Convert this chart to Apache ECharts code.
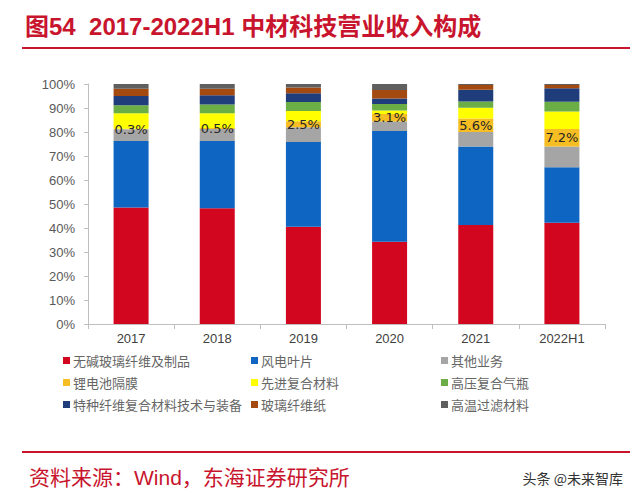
<!DOCTYPE html>
<html>
<head>
<meta charset="utf-8">
<script src="https://cdn.jsdelivr.net/npm/echarts@6/dist/echarts.min.js"></script>
<style>html,body{margin:0;padding:0;background:#fff;}#c{width:640px;height:493px;}</style>
</head>
<body>
<div id="c"></div>
<script>
const categories = ['2017', '2018', '2019', '2020', '2021', '2022H1'];
const seriesNames = ['无碱玻璃纤维及制品', '风电叶片', '其他业务', '锂电池隔膜', '先进复合材料', '高压复合气瓶', '特种纤维复合材料技术与装备', '玻璃纤维纸', '高温过滤材料'];
const glassFiber   = [48.5, 48.2, 40.5, 34.3, 41.2, 42.2];
const windBlade    = [27.75, 28.0, 35.3, 46.1, 32.8, 23.1];
const otherBiz     = [4.85, 5.0, 6.2, 4.0, 6.0, 8.7];
const liSeparator  = [0.3, 0.5, 2.5, 3.1, 5.6, 7.2];
const advComposite = [6.4, 6.1, 4.2, 1.5, 4.5, 7.3];
const hpCylinder   = [3.3, 3.7, 3.8, 2.7, 2.6, 4.1];
const specialFiber = [3.9, 3.8, 3.6, 2.3, 4.9, 5.6];
const fiberPaper   = [3.0, 2.7, 2.4, 3.5, 2.0, 1.4];
const hiTempFilter = [2.0, 2.0, 1.5, 2.5, 0.4, 0.4];
const yTicks = ['0%', '10%', '20%', '30%', '40%', '50%', '60%', '70%', '80%', '90%', '100%'];

const values = [glassFiber, windBlade, otherBiz, liSeparator, advComposite, hpCylinder, specialFiber, fiberPaper, hiTempFilter];
const colors = ['#D2061F', '#0F66C2', '#A5A5A5', '#F6BE22', '#FFFF00', '#6BAE45', '#1F3D7A', '#A44A10', '#5F5F5F'];

const series = seriesNames.map((name, i) => ({
  name: name,
  type: 'bar',
  stack: 'total',
  barWidth: 35,
  data: values[i],
  itemStyle: { color: colors[i] },
  label: i === 3 ? {
    show: true, position: 'inside', color: '#262626', fontSize: 13,
    fontFamily: 'DejaVu Sans', formatter: p => p.value.toFixed(1) + '%'
  } : { show: false }
}));

const legendCommon = {
  orient: 'vertical', itemWidth: 7, itemHeight: 7, itemGap: 9, icon: 'rect',
  textStyle: { fontSize: 13, color: '#666666', fontFamily: 'Noto Sans CJK SC', padding: [0, 0, 0, -2] },
  top: 349
};

const chart = echarts.init(document.getElementById('c'), null, { renderer: 'svg' });
chart.setOption({
  animation: false,
  backgroundColor: '#fff',
  title: [
    { text: '图54  2017-2022H1 中材科技营业收入构成', left: 20, top: 9,
      textStyle: { color: '#C8142D', fontSize: 24, fontWeight: 'bold', fontFamily: 'Liberation Sans, Noto Sans CJK SC' } },
    { text: '资料来源：Wind，东海证券研究所', left: 24, top: 462,
      textStyle: { color: '#C8142D', fontSize: 21, fontWeight: 'normal', fontFamily: 'Liberation Sans, Noto Sans CJK SC' } },
    { text: '头条 @未来智库', right: 12, top: 466,
      textStyle: { color: '#333', fontSize: 14, fontWeight: 'normal', fontFamily: 'Noto Sans CJK SC' } }
  ],
  graphic: [
    { type: 'line', shape: { x1: 22, y1: 48, x2: 630, y2: 48 }, style: { stroke: '#C8142D', lineWidth: 2 } },
    { type: 'line', shape: { x1: 22, y1: 452, x2: 630, y2: 452 }, style: { stroke: '#C8142D', lineWidth: 2 } }
  ],
  legend: [
    Object.assign({ left: 58, data: [seriesNames[0], seriesNames[3], seriesNames[6]] }, legendCommon),
    Object.assign({ left: 246, data: [seriesNames[1], seriesNames[4], seriesNames[7]] }, legendCommon),
    Object.assign({ left: 436, data: [seriesNames[2], seriesNames[5], seriesNames[8]] }, legendCommon)
  ],
  grid: { left: 88, right: 35, top: 84, bottom: 169, containLabel: false },
  xAxis: {
    type: 'category', data: categories,
    axisLine: { lineStyle: { color: '#BFBFBF' } },
    axisTick: { show: true, alignWithLabel: false, length: 5, lineStyle: { color: '#BFBFBF' } },
    axisLabel: { color: '#404040', fontSize: 13, fontFamily: 'Liberation Sans', margin: 8 }
  },
  yAxis: {
    type: 'value', min: 0, max: 100, interval: 10,
    axisLine: { show: true, lineStyle: { color: '#BFBFBF' } },
    axisTick: { show: true, length: 4, lineStyle: { color: '#BFBFBF' } },
    splitLine: { show: false },
    axisLabel: { color: '#595959', fontSize: 13, fontFamily: 'Liberation Sans', margin: 13,
      formatter: v => yTicks[Math.round(v / 10)] }
  },
  series: series
});
</script>
</body>
</html>
